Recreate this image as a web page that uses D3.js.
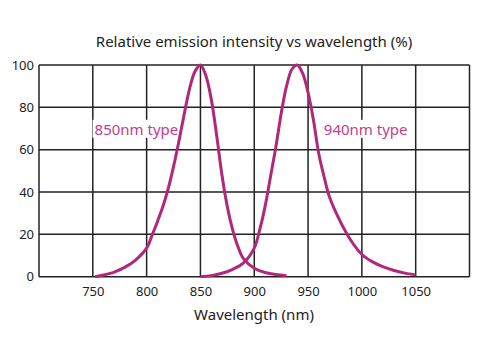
<!DOCTYPE html>
<html><head><meta charset="utf-8">
<script src="https://cdn.jsdelivr.net/npm/d3@7"></script>
<style>body{margin:0;background:#fff}svg{display:block}text{font-family:"Noto Sans",sans-serif}</style>
</head><body><svg id="c" width="480" height="360"></svg>
<script>
const xTicks = [750, 800, 850, 900, 950, 1000, 1050];
const yTicks = [0, 20, 40, 60, 80, 100];
const wl850 = [752,760,770,780,790,800,805,810,815,820,825,830,835,840,845,850,855,860,865,870,875,880,885,890,900,910,920,930];
const val850 = [0,0.8,2.2,4.5,8,13.5,19.5,26,33,41.5,52,64,77,89,97,100,95,84,67,48,33,22,14,8.5,4,2,1,0.5];
const wl940 = [850,860,870,880,890,900,905,910,915,920,925,930,935,940,945,950,955,960,965,970,980,990,1000,1010,1020,1030,1040,1050];
const val940 = [0,0.5,1.6,3.5,6.5,13.5,22,33,47,61,77,90,98,100,96,87,74,58,47,37.5,26,17,10.5,7,4.6,2.9,1.7,0.8];
const seriesNames = ["850nm type", "940nm type"];

const svg = d3.select("#c");
const x = d3.scaleLinear().domain([700, 1100]).range([39, 469.5]);
const y = d3.scaleLinear().domain([0, 100]).range([276.7, 65]);
const color = "#b0287a";
const grid = "#222";

// grid
svg.append("g").selectAll("line").data(d3.range(700, 1101, 50)).join("line")
  .attr("x1", d => x(d)).attr("x2", d => x(d)).attr("y1", y(0)).attr("y2", y(100))
  .attr("stroke", grid).attr("stroke-width", 1.5);
svg.append("g").selectAll("line").data(yTicks).join("line")
  .attr("x1", x(700)).attr("x2", x(1100)).attr("y1", d => y(d)).attr("y2", d => y(d))
  .attr("stroke", grid).attr("stroke-width", 1.5);

// axes
const xa = svg.append("g").attr("transform", `translate(0,${y(0)})`)
  .call(d3.axisBottom(x).tickValues(xTicks).tickFormat(d3.format("d")).tickSize(0).tickPadding(10));
xa.select(".domain").remove();
xa.selectAll("text").attr("font-size", 13).attr("fill", "#222").attr("font-family", '"Noto Sans",sans-serif');
const ya = svg.append("g").attr("transform", `translate(${x(700)},0)`)
  .call(d3.axisLeft(y).tickValues(yTicks).tickSize(0).tickPadding(5));
ya.select(".domain").remove();
ya.selectAll("text").attr("font-size", 13).attr("fill", "#222").attr("font-family", '"Noto Sans",sans-serif');

// labels (white bg)
const labels = [{t: seriesNames[0], x: 790.5, y: 69.5}, {t: seriesNames[1], x: 1003.5, y: 69.5}];
labels.forEach(l => {
  const g = svg.append("g");
  const tx = g.append("text").attr("x", x(l.x)).attr("y", y(l.y)).attr("text-anchor", "middle")
    .attr("dy", "0.35em").attr("font-size", 15).attr("fill", "#c0418c").text(l.t);
  const b = tx.node().getBBox();
  g.insert("rect", "text").attr("x", b.x - 2).attr("y", b.y + 1).attr("width", b.width + 4).attr("height", b.height - 2).attr("fill", "#fff");
});

// curves
const line = d3.line().x(d => x(d[0])).y(d => y(d[1])).curve(d3.curveCatmullRom.alpha(0.5));
[[wl850, val850], [wl940, val940]].forEach(([w, v]) => {
  svg.append("path").datum(w.map((d, i) => [d, v[i]])).attr("d", line)
    .attr("fill", "none").attr("stroke", color).attr("stroke-width", 3);
});

svg.append("text").attr("x", 254).attr("y", 42).attr("text-anchor", "middle").attr("dy", "0.35em")
  .attr("font-size", 15).attr("fill", "#222").text("Relative emission intensity vs wavelength (%)");
svg.append("text").attr("x", 254).attr("y", 315).attr("text-anchor", "middle").attr("dy", "0.35em")
  .attr("font-size", 15).attr("fill", "#222").text("Wavelength (nm)");
</script></body></html>
